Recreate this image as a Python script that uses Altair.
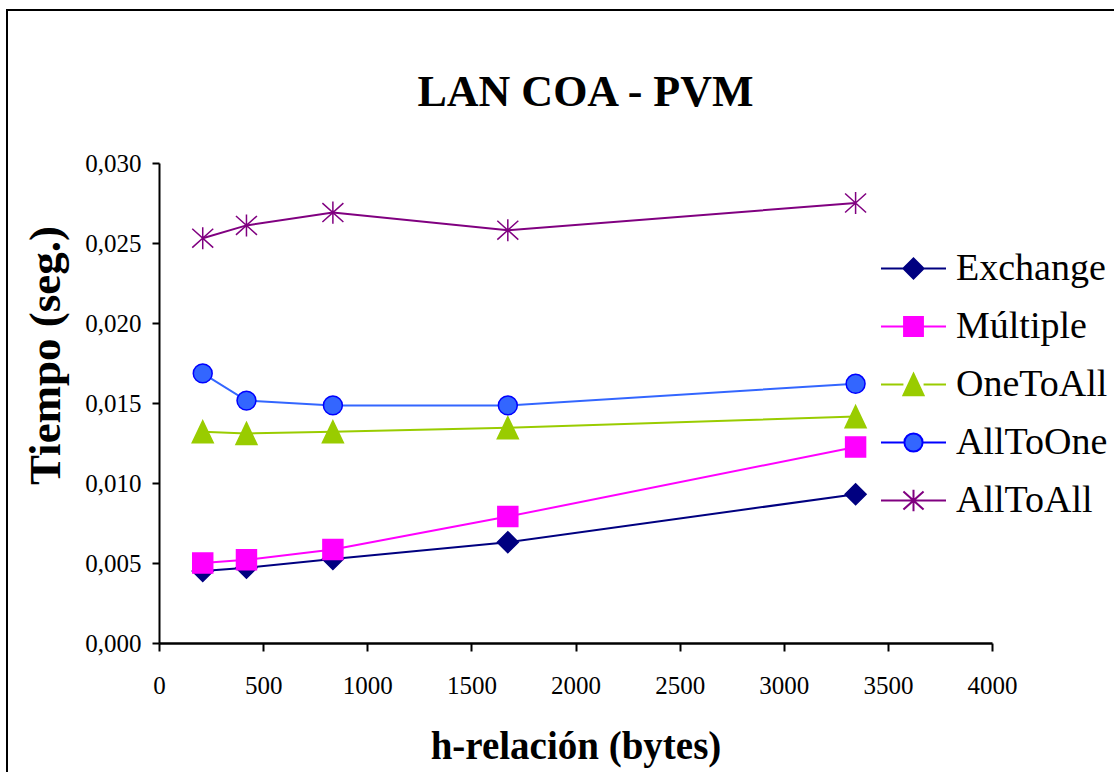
import altair as alt
import pandas as pd

# h-relation sizes (bytes) and measured times (seconds) per collective pattern
h_bytes = [210, 420, 835, 1675, 3345]
exchange = [0.00450, 0.00470, 0.00525, 0.00630, 0.00930]
multiple = [0.00500, 0.00520, 0.00585, 0.00790, 0.01225]
one_to_all = [0.01320, 0.01310, 0.01320, 0.01345, 0.01415]
all_to_one = [0.01685, 0.01515, 0.01485, 0.01485, 0.01620]
all_to_all = [0.02530, 0.02610, 0.02690, 0.02580, 0.02750]

series_names = ["Exchange", "Múltiple", "OneToAll", "AllToOne", "AllToAll"]
series_values = [exchange, multiple, one_to_all, all_to_one, all_to_all]

line_colors = ["#000080", "#FF00FF", "#99CC00", "#3366FF", "#800080"]
marker_fill = ["#000080", "#FF00FF", "#99CC00", "#3366FF", "transparent"]
marker_stroke = ["#000080", "#FF00FF", "#99CC00", "#0000FF", "#800080"]

# marker outlines in unit coordinates (scaled by sqrt(size)/2)
marker_paths = [
    "M-1,0L0,-1L1,0L0,1Z",
    "M-0.95,-0.95H0.95V0.95H-0.95Z",
    "M0,-1.05L1,1.05L-1,1.05Z",
    "M0.9,0A0.9,0.9 0 1,1 -0.9,0A0.9,0.9 0 1,1 0.9,0Z",
    "M0,-1.05V1.05M-1,-0.9L1,0.9M1,-0.9L-1,0.9",
]

# legend keys: a line segment with the marker in the middle
legend_paths = [
    "M-1,0H-0.31M0.31,0H1M-0.31,0L0,-0.31L0.31,0L0,0.31Z",
    "M-1,0H-0.29M0.29,0H1M-0.29,-0.29H0.29V0.29H-0.29Z",
    "M-1,0H-0.31M0.31,0H1M0,-0.33L0.31,0.33L-0.31,0.33Z",
    "M-1,0H-0.28M0.28,0H1M0.28,0A0.28,0.28 0 1,1 -0.28,0A0.28,0.28 0 1,1 0.28,0Z",
    "M-1,0H1M0,-0.33V0.33M-0.31,-0.28L0.31,0.28M0.31,-0.28L-0.31,0.28",
]

rows = []
for name, vals in zip(series_names, series_values):
    for h, t in zip(h_bytes, vals):
        rows.append({"serie": name, "h": h, "t": t})
df = pd.DataFrame(rows)

FONT = "Liberation Serif"

x_enc = alt.X(
    "h:Q",
    scale=alt.Scale(domain=[0, 4000], nice=False),
    axis=alt.Axis(
        values=[0, 500, 1000, 1500, 2000, 2500, 3000, 3500, 4000],
        format="d",
        title="h-relación (bytes)",
        titleFont=FONT,
        titleFontSize=39,
        titleFontWeight="bold",
        titleColor="black",
        titleBaseline="alphabetic",
        titleY=115,
        labelFont=FONT,
        labelFontSize=25,
        labelColor="black",
        labelPadding=22,
        labelFlush=False,
        labelOverlap=False,
        tickSize=8,
        tickWidth=2,
        tickColor="black",
        domainColor="black",
        domainWidth=2.5,
        grid=False,
    ),
)
y_enc = alt.Y(
    "t:Q",
    scale=alt.Scale(domain=[0, 0.03], nice=False),
    axis=alt.Axis(
        values=[0, 0.005, 0.010, 0.015, 0.020, 0.025, 0.030],
        labelExpr="replace(format(datum.value, '.3f'), '.', ',')",
        title="Tiempo (seg.)",
        titleFont=FONT,
        titleFontSize=45,
        titleFontWeight="bold",
        titleColor="black",
        titleAngle=270,
        titleAlign="center",
        titleBaseline="middle",
        titleX=-114,
        titleY=192,
        labelFont=FONT,
        labelFontSize=25,
        labelColor="black",
        labelPadding=11,
        labelFlush=False,
        labelOverlap=False,
        tickSize=7,
        tickWidth=2,
        tickColor="black",
        domainColor="black",
        domainWidth=2,
        grid=False,
    ),
)

base = alt.Chart(df)

lines = base.mark_line(strokeWidth=2).encode(
    x=x_enc,
    y=y_enc,
    color=alt.Color("serie:N", scale=alt.Scale(domain=series_names, range=line_colors), legend=None),
    detail="serie:N",
)

points = base.mark_point(size=441, strokeWidth=1.5, opacity=1, filled=False).encode(
    x="h:Q",
    y="t:Q",
    shape=alt.Shape("serie:N", scale=alt.Scale(domain=series_names, range=marker_paths), legend=None),
    fill=alt.Fill("serie:N", scale=alt.Scale(domain=series_names, range=marker_fill), legend=None),
    stroke=alt.Stroke("serie:N", scale=alt.Scale(domain=series_names, range=marker_stroke), legend=None),
)

legend_kw = dict(
    title=None,
    orient="none",
    legendX=721,
    legendY=72,
    labelFont=FONT,
    labelFontSize=38,
    labelColor="black",
    labelOffset=9,
    rowPadding=5,
    symbolSize=4225,
    symbolStrokeWidth=2,
    symbolOpacity=1,
)

legend_layer = (
    base.transform_filter("false")
    .mark_point(size=4225, strokeWidth=2, filled=False)
    .encode(
        x="h:Q",
        y="t:Q",
        shape=alt.Shape("serie:N", scale=alt.Scale(domain=series_names, range=legend_paths), legend=alt.Legend(**legend_kw)),
        fill=alt.Fill("serie:N", scale=alt.Scale(domain=series_names, range=marker_fill), legend=alt.Legend(**legend_kw)),
        stroke=alt.Stroke("serie:N", scale=alt.Scale(domain=series_names, range=marker_stroke), legend=alt.Legend(**legend_kw)),
    )
)

# outer chart border (right and bottom sides run past the page edge)
frame = alt.Chart(pd.DataFrame({"k": [0]})).mark_rect(
    fill="transparent", stroke="black", strokeWidth=2
).encode(
    x=alt.value(-152),
    y=alt.value(-153),
    x2=alt.value(970),
    y2=alt.value(625),
)

chart = (
    alt.layer(frame, lines, points, legend_layer)
    .resolve_scale(shape="independent", fill="independent", stroke="independent")
    .properties(
        width=833,
        height=480,
        autosize=alt.AutoSizeParams(type="none"),
        padding={"left": 159, "top": 163, "right": 122, "bottom": 129},
        background="white",
        title=alt.TitleParams(
            "LAN COA - PVM",
            font=FONT,
            fontSize=44,
            fontWeight="bold",
            color="black",
            anchor="middle",
            baseline="alphabetic",
            dx=10,
            dy=141,
            offset=0,
        ),
    )
    .configure_view(stroke=None)
)

chart.save("out.html", embed_options={"renderer": "svg", "actions": False})
